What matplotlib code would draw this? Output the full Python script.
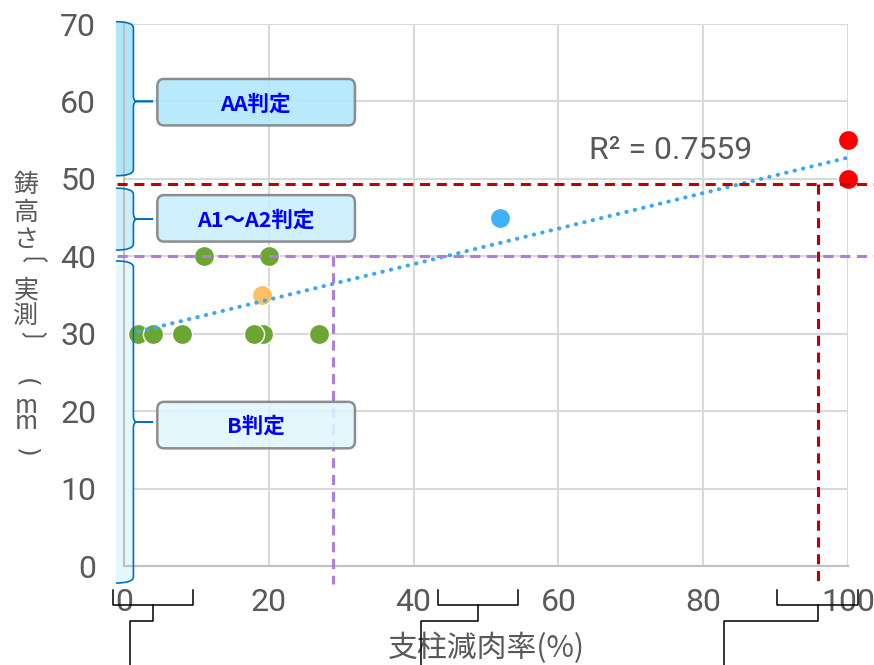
import numpy as np
import matplotlib.pyplot as plt
from matplotlib.patches import FancyBboxPatch, PathPatch
from matplotlib.path import Path

plt.rcParams['font.family'] = ['Roboto', 'Noto Sans CJK JP', 'DejaVu Sans']

# measured points
green_x = [2, 4, 8, 19.2, 18, 27, 11, 20]
green_y = [30, 30, 30, 30, 30, 30, 40, 40]
orange_x = [19]
orange_y = [35]
blue_x = [52]
blue_y = [45]
red_x = [100, 100]
red_y = [55, 50]
r2_label = 'R² = 0.7559'

x_ticks = [0, 20, 40, 60, 80, 100]
y_ticks = [0, 10, 20, 30, 40, 50, 60, 70]
x_title = '支柱減肉率(%)'
# vertical y title, one entry per stacked glyph (rotated ones are brackets)
y_title = ['鋳', '高', 'さ', '❲', '実', '測', '❳', '(', 'm\nm', ')']
y_rot = [0, 0, 0, -90, 0, 0, -90, -90, 0, -90]
y_pos = [185, 213, 240, 267, 291, 317, 342, 383, 414, 453]

# limit lines (x, y)
red_limit = (95.8, 49.3)
purple_limit = (28.8, 40.0)

# judgement bands: label, brace top, brace bottom, brace tip, fill colour
grades = ['AA判定', 'A1～A2判定', 'B判定']
grade_top = [70.3, 48.8, 39.4]
grade_bottom = [50.4, 40.8, -2.2]
grade_tip = [60.0, 44.8, 18.6]
grade_box_y = [59.9, 44.9, 18.2]
grade_fill = ['#b0e6f9', '#cdeffc', '#e4f7fd']
box_fill = ['#aee8fb', '#c9effc', '#e1f6fd']

# callout brackets under the x axis: left, right, stem, elbow
callouts = [(-1.5, 9.5, 4.0, 0.8), (43.4, 54.4, 48.9, 41.0), (90.2, 101.4, 95.8, 82.9)]

grey = '#595959'

fig = plt.figure(figsize=(8.74, 6.65), dpi=100)
ax = fig.add_axes([124 / 874, 1 - 566 / 665, 724 / 874, 542 / 665])
ax.set_xlim(0, 100)
ax.set_ylim(0, 70)
ax.set_xticks(x_ticks)
ax.set_yticks(y_ticks)
ax.set_axisbelow(True)
ax.grid(True, color='#d9d9d9', lw=1.5)
for s in ['top', 'right']:
    ax.spines[s].set_visible(False)
for s in ['left', 'bottom']:
    ax.spines[s].set_color('#c0c0c0')
    ax.spines[s].set_linewidth(1.5)
ax.tick_params(length=0, labelsize=23, labelcolor=grey)
ax.tick_params(axis='x', pad=16)
ax.tick_params(axis='y', pad=20)

# scatter
mk = dict(s=210, edgecolors='white', linewidths=1, zorder=3, clip_on=False)
ax.scatter(green_x, green_y, color='#6aa631', **mk)
ax.scatter(orange_x, orange_y, color='#fcbf66', **mk)
ax.scatter(blue_x, blue_y, color='#3fb1fb', **mk)
ax.scatter(red_x, red_y, color='#ff0000', **mk)

# linear trend over all points
all_x = np.array(green_x + orange_x + blue_x + red_x, dtype=float)
all_y = np.array(green_y + orange_y + blue_y + red_y, dtype=float)
coef = np.polyfit(all_x, all_y, 1)
tx = np.array([all_x.min(), all_x.max()])
ax.plot(tx, np.polyval(coef, tx), color='#3ba8f0', lw=2.9,
        linestyle=(0, (0.1, 2.05)), dash_capstyle='round', zorder=4, clip_on=False)
ax.text(75.5, 53.6, r2_label, fontsize=23, color=grey, ha='center', va='center')

# limit lines
dash = dict(lw=2.2, linestyle=(0, (3.3, 2.2)), zorder=4.5, clip_on=False)
ax.plot([-1, 104], [red_limit[1]] * 2, color='#c00000', **dash)
ax.plot([red_limit[0]] * 2, [red_limit[1], -2.3], color='#c00000', **dash)
ax.plot([-1, 104], [purple_limit[1]] * 2, color='#ad7fdc', **dash)
ax.plot([purple_limit[0]] * 2, [purple_limit[1], -2.3], color='#ad7fdc', **dash)


def brace(top, bottom, tip, xc=-1.1, xb=1.3, xt=4.0, r=0.8):
    verts = [(xc, top), (xb, top), (xb, top - r), (xb, tip + r),
             (xb, tip), (xb + 0.5, tip), (xt, tip), (xb + 0.5, tip),
             (xb, tip), (xb, tip - r), (xb, bottom + r),
             (xb, bottom), (xc, bottom)]
    codes = [Path.MOVETO, Path.CURVE3, Path.CURVE3, Path.LINETO,
             Path.CURVE3, Path.CURVE3, Path.LINETO, Path.LINETO,
             Path.CURVE3, Path.CURVE3, Path.LINETO,
             Path.CURVE3, Path.CURVE3]
    return verts, codes


for i, label in enumerate(grades):
    verts, codes = brace(grade_top[i], grade_bottom[i], grade_tip[i])
    fill = Path(verts + [verts[0]], codes + [Path.LINETO])
    ax.add_patch(PathPatch(fill, facecolor=grade_fill[i], edgecolor='none',
                           zorder=1, clip_on=False))
    ax.add_patch(PathPatch(Path(verts, codes), facecolor='none', edgecolor='#0070c0',
                           lw=1.2, zorder=3, clip_on=False))
    yc = grade_box_y[i]
    box = FancyBboxPatch((4.6, yc - 3.0), 27.3, 6.0,
                         boxstyle='round,pad=0,rounding_size=0.9',
                         facecolor=box_fill[i], edgecolor='#7f7f7f', lw=1.8,
                         alpha=0.88, zorder=6, mutation_aspect=1.07)
    ax.add_patch(box)
    ax.text(18.2, yc - 0.2, label, fontsize=15.5, fontweight='bold', color='#0000ff',
            family=['Noto Sans CJK JP'], ha='center', va='center', zorder=7)

# callout brackets
for left, right, stem, elbow in callouts:
    ax.plot([left, left, right, right], [-3.1, -5.0, -5.0, -3.1],
            color='black', lw=1.1, clip_on=False, zorder=5)
    ax.plot([stem, stem, elbow, elbow], [-5.0, -7.1, -7.1, -14],
            color='black', lw=1.1, clip_on=False, zorder=5)

# axis titles
ax.set_xlabel(x_title, fontsize=21.5, color=grey, family=['Noto Sans CJK JP'])
ax.xaxis.set_label_coords(0.5, -0.151)
ax.xaxis.label.set_va('center')

for ch, rot, py in zip(y_title, y_rot, y_pos):
    fam = ['Noto Sans CJK JP'] if rot == 0 else ['DejaVu Sans']
    fig.text(26 / 874, 1 - py / 665, ch, fontsize=18, color=grey, rotation=rot,
             family=fam, ha='center', va='center', linespacing=0.5)

fig.savefig('out.png', dpi=100)
